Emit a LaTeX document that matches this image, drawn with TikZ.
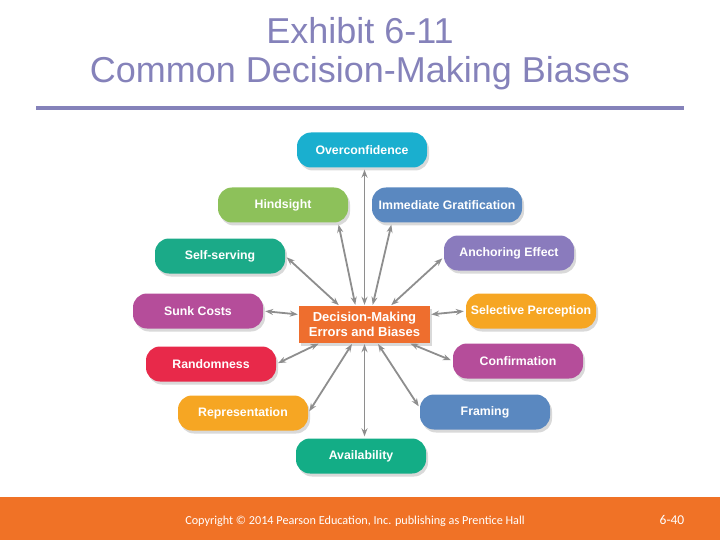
\documentclass[tikz,border=0pt]{standalone}
\usepackage{fontspec}
\setmainfont{Liberation Sans}
\newfontfamily\footfont{Carlito}
\usetikzlibrary{arrows.meta, positioning, shadows}
\definecolor{TitleInk}   {HTML}{8582BA}
\definecolor{FootBar}    {HTML}{F07226}
\definecolor{ArrowGray}  {HTML}{8E8E8E}
\definecolor{Cyan}       {HTML}{1AAFCF}
\definecolor{Leaf}       {HTML}{8DC15A}
\definecolor{Steel}      {HTML}{5A88C0}
\definecolor{Teal}       {HTML}{1BAA88}
\definecolor{Violet}     {HTML}{8A7BBD}
\definecolor{Plum}       {HTML}{B54D9A}
\definecolor{Amber}      {HTML}{F6A623}
\definecolor{Crimson}    {HTML}{E8294A}
\definecolor{Jade}       {HTML}{13AD86}
\definecolor{Tangerine}  {HTML}{EE6E2E}

\begin{document}
\begin{tikzpicture}[
  x=1pt, y=-1pt,
  every node/.style={inner sep=0pt},
  titletext/.style={text=TitleInk, font=\fontsize{36}{43}\selectfont},
  bias/.style={rounded corners=14pt, minimum width=130pt, minimum height=35pt,
               text=white, font=\bfseries\fontsize{12.3}{14}\selectfont,
               align=center,
               drop shadow={opacity=0.3, shadow xshift=2pt, shadow yshift=-3pt}},
  core/.style={bias, rounded corners=0pt, fill=Tangerine,
               minimum width=131pt, minimum height=37pt,
               font=\bfseries\fontsize{13}{15}\selectfont},
  arr/.style={{Stealth[length=8pt,width=6pt]}-{Stealth[length=8pt,width=6pt]},
              line width=1.8pt, color=ArrowGray, shorten <=1pt, shorten >=2pt},
]
  \useasboundingbox (0,0) rectangle (720,540);

  % heading
  \node[titletext] (head1) at (360,31) {Exhibit 6-11};
  \node[titletext] (head2) at (360,73) {Common Decision-Making Biases};
  \draw[TitleInk, line width=4pt] (36,108) -- (684,108);

  % footer
  \fill[FootBar] (0,497) rectangle (720,540);
  \node[text=white, font=\footfont\fontsize{12.2}{14}\selectfont] (copy) at (355,521)
    {Copyright \textcopyright{} 2014 Pearson Education, Inc. publishing as Prentice Hall};
  \node[text=white, font=\footfont\fontsize{13.5}{15}\selectfont] (page) at (672,520) {6-40};

  % biases
  \node[core]                   (cen)   at (364.5,324.5) {Decision-Making\\Errors and Biases};
  \node[bias, fill=Cyan]        (over)  at (362,150) {Overconfidence};
  \node[bias, fill=Leaf]        (hind)  at (283,205) {Hindsight};
  \node[bias, fill=Steel, minimum width=150pt] (imm) at (447,205) {Immediate Gratification};
  \node[bias, fill=Teal]        (self)  at (220,256) {Self-serving};
  \node[bias, fill=Violet]      (anch)  at (509,253) {Anchoring Effect};
  \node[bias, fill=Plum]        (sunk)  at (198,311) {Sunk Costs};
  \node[bias, fill=Amber]       (sel)   at (531,311) {Selective Perception};
  \node[bias, fill=Crimson]     (rand)  at (211,364) {Randomness};
  \node[bias, fill=Plum]        (conf)  at (518,361) {Confirmation};
  \node[bias, fill=Amber]       (rep)   at (243,413) {Representation};
  \node[bias, fill=Steel]       (fram)  at (485,412) {Framing};
  \node[bias, fill=Jade]        (avail) at (361,456) {Availability};

  % spokes
  \draw[arr] (cen.north) -- (cen.north |- over.south);
  \draw[arr] ([xshift=-9pt]cen.north) -- ([xshift=-10pt]hind.south east);
  \draw[arr] ([xshift=8pt]cen.north) -- ([xshift=20pt]imm.south west);
  \draw[arr] ([xshift=-25pt]cen.north) -- (self.east);
  \draw[arr] ([xshift=26pt]cen.north) -- ([yshift=-4pt]anch.west);
  \draw[arr] ([yshift=10pt]cen.west) -- (sunk.east);
  \draw[arr] ([yshift=10pt]cen.east) -- (sel.west);
  \draw[arr] ([xshift=-45pt]cen.south) -- (rand.east);
  \draw[arr] ([xshift=-12pt]cen.south) -- (rep.east);
  \draw[arr] (cen.south) -- (cen.south |- avail.north);
  \draw[arr] ([xshift=13pt]cen.south) -- ([yshift=4pt]fram.west);
  \draw[arr] ([xshift=45pt]cen.south) -- (conf.west);
\end{tikzpicture}
\end{document}
